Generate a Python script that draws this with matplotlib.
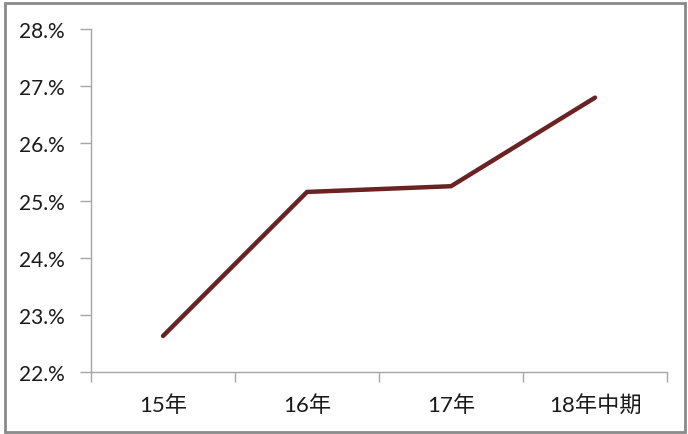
import matplotlib.pyplot as plt
from matplotlib.patches import Rectangle
from matplotlib.ticker import FuncFormatter, FixedLocator

plt.rcParams['font.family'] = ['Lato', 'Noto Sans CJK SC', 'DejaVu Sans']

periods = ['15年', '16年', '17年', '18年中期']
ratio = [22.63, 25.15, 25.25, 26.8]

fig = plt.figure(figsize=(6.88, 4.35), dpi=100)
ax = fig.add_axes([0.1323, 0.1425, 0.8372, 0.7885])

x = range(len(periods))
ax.plot(x, ratio, color='#6a2222', lw=3.2, solid_capstyle='round', solid_joinstyle='miter')

ax.set_xlim(-0.5, len(periods) - 0.5)
ax.set_ylim(22, 28)
ax.yaxis.set_major_locator(FixedLocator([22, 23, 24, 25, 26, 27, 28]))
ax.yaxis.set_major_formatter(FuncFormatter(lambda v, p: f'{v:.0f}.%'))

# category labels centred, tick marks on the boundaries
ax.set_xticks([i for i in x])
ax.set_xticklabels(periods)
ax.tick_params(axis='x', length=0, pad=16, labelsize=16)
ax.set_xticks([i - 0.5 for i in range(len(periods) + 1)], minor=True)
ax.tick_params(axis='x', which='minor', length=7, color='#a6a6a6', width=1)
ax.tick_params(axis='y', length=8, color='#a6a6a6', width=1, pad=11, labelsize=15)
ax.tick_params(labelcolor='#1a1a1a')

for s in ['top', 'right']:
    ax.spines[s].set_visible(False)
for s in ['left', 'bottom']:
    ax.spines[s].set_color('#a6a6a6')
    ax.spines[s].set_linewidth(1)

# outer chart frame
fig.patches.append(Rectangle((5 / 688, 2 / 435), 680 / 688, 429 / 435,
                             transform=fig.transFigure, fill=False,
                             edgecolor='#8a8a8a', lw=2))

fig.savefig('out.png', dpi=100)
